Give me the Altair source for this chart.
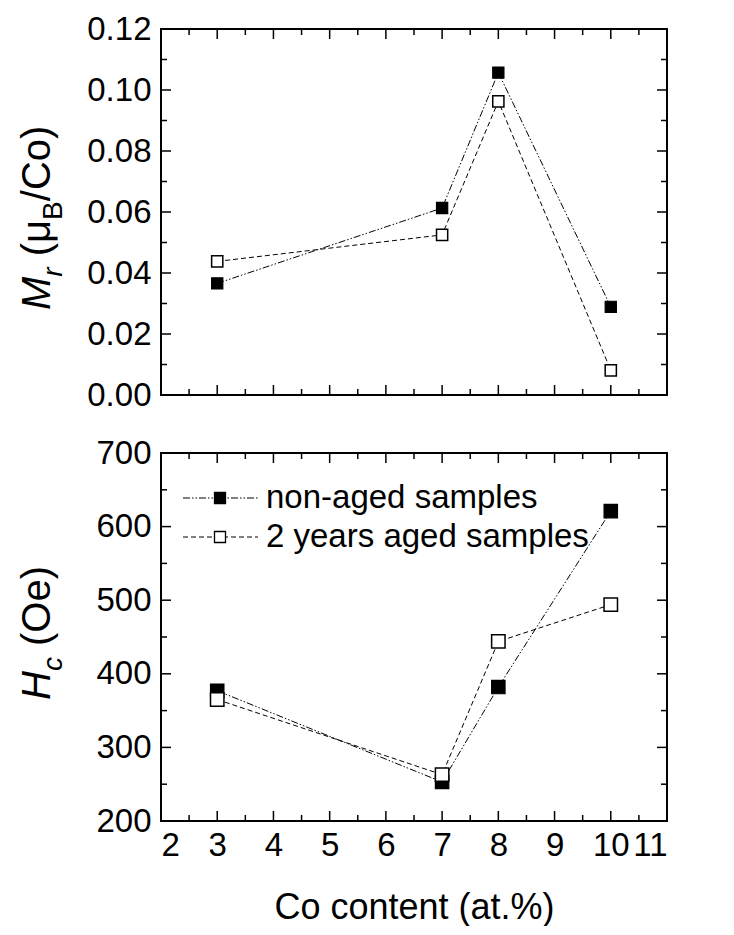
import altair as alt
import pandas as pd

FONT = "Liberation Sans"

# ---------------- data ----------------
co = [3, 7, 8, 10]
mr_nonaged = [0.0366, 0.0613, 0.1057, 0.0289]
mr_aged = [0.0438, 0.0525, 0.0963, 0.0081]
hc_nonaged = [377, 253, 382, 621]
hc_aged = [365, 263, 444, 494]
series_labels = ["non-aged samples", "2 years aged samples"]

x_ticks = [2, 3, 4, 5, 6, 7, 8, 9, 10, 11]
x_minor = [2.5, 3.5, 4.5, 5.5, 6.5, 7.5, 8.5, 9.5, 10.5]
mr_ticks = [0.0, 0.02, 0.04, 0.06, 0.08, 0.10, 0.12]
mr_minor = [0.01, 0.03, 0.05, 0.07, 0.09, 0.11]
hc_ticks = [200, 300, 400, 500, 600, 700]
hc_minor = [250, 350, 450, 550, 650]
x_title = "Co content (at.%)"

# --------------- layout ----------------
W = 506
H1 = 366
H2 = 368
MAJOR = 10
MINOR = 6
DASH_NA = [7, 2, 1.5, 2, 1.5, 2]
DASH_AG = [5, 3]
LABEL_FS = 33

# Arial-like advance widths (em) for title layout
EM = {"M": .833, "r": .333, " ": .278, "(": .333, ")": .333, "μ": .576, "B": .667,
      "/": .278, "C": .722, "o": .556, "H": .722, "c": .5, "O": .778, "e": .556}


def text_width(s, size):
    return sum(EM.get(ch, .556) for ch in s) * size


dummy = pd.DataFrame({"k": [0]})


def panel(y_na, y_ag, ydomain, yticks, yminor, yfmt, H, bottom, title_pieces,
          title_x, title_start, msize, legend):
    xs = alt.Scale(domain=[2, 11], nice=False, zero=False)
    ys = alt.Scale(domain=ydomain, nice=False, zero=False)
    if bottom:
        xaxis = alt.Axis(values=x_ticks, format="d", ticks=False, domain=False,
                         grid=False, labelFontSize=LABEL_FS, labelPadding=8,
                         title=x_title, titleFontSize=36, titlePadding=28,
                         titleFontWeight="normal")
    else:
        xaxis = None
    yaxis = alt.Axis(values=yticks, format=yfmt, ticks=False, domain=False,
                     grid=False, labelFontSize=LABEL_FS, labelPadding=10, title="")

    def X():
        return alt.X("x:Q", scale=xs, axis=xaxis)

    def Y():
        return alt.Y("y:Q", scale=ys, axis=yaxis)

    df_na = pd.DataFrame({"x": co, "y": y_na})
    df_ag = pd.DataFrame({"x": co, "y": y_ag})

    layers = []
    layers.append(alt.Chart(df_na).mark_line(color="black", strokeWidth=1,
                                             strokeDash=DASH_NA).encode(x=X(), y=Y()))
    layers.append(alt.Chart(df_ag).mark_line(color="black", strokeWidth=1,
                                             strokeDash=DASH_AG).encode(x=X(), y=Y()))
    layers.append(alt.Chart(df_na).mark_square(fill="black", stroke="black", strokeWidth=1.2,
                                               opacity=1, size=msize).encode(x=X(), y=Y()))
    layers.append(alt.Chart(df_ag).mark_square(fill="white", stroke="black", strokeWidth=1.5,
                                               opacity=1, size=msize).encode(x=X(), y=Y()))

    # inward ticks
    for vals, ln in ((yticks, MAJOR), (yminor, MINOR)):
        d = pd.DataFrame({"y": vals})
        layers.append(alt.Chart(d).mark_rule(color="black", strokeWidth=1.5).encode(
            y=Y(), x=alt.value(0), x2=alt.value(ln)))
        layers.append(alt.Chart(d).mark_rule(color="black", strokeWidth=1.5).encode(
            y=Y(), x=alt.value(W - ln), x2=alt.value(W)))
    for vals, ln in ((x_ticks, MAJOR), (x_minor, MINOR)):
        d = pd.DataFrame({"x": vals})
        layers.append(alt.Chart(d).mark_rule(color="black", strokeWidth=1.5).encode(
            x=X(), y=alt.value(H), y2=alt.value(H - ln)))
        layers.append(alt.Chart(d).mark_rule(color="black", strokeWidth=1.5).encode(
            x=X(), y=alt.value(0), y2=alt.value(ln)))

    # rotated y title built from pieces (italic symbol + subscripts)
    ypos = title_start
    for txt, size, italic, shift, gap in title_pieces:
        ypos -= gap * size
        kw = dict(text=txt, angle=270, align="left", baseline="alphabetic",
                  fontSize=size, font=FONT, color="black")
        if italic:
            kw["fontStyle"] = "italic"
        layers.append(alt.Chart(dummy).mark_text(**kw).encode(
            x=alt.value(title_x + shift), y=alt.value(ypos)))
        ypos -= text_width(txt, size)

    if legend:
        rows = [(series_labels[0], 45, DASH_NA, "black"),
                (series_labels[1], 84, DASH_AG, "white")]
        for lab, yy, dash, fill in rows:
            layers.append(alt.Chart(dummy).mark_rule(color="black", strokeWidth=1,
                                                     strokeDash=dash).encode(
                x=alt.value(22), x2=alt.value(97), y=alt.value(yy)))
            layers.append(alt.Chart(dummy).mark_square(fill=fill, stroke="black",
                                                       strokeWidth=1.3, opacity=1,
                                                       size=121).encode(
                x=alt.value(59), y=alt.value(yy)))
            layers.append(alt.Chart(dummy).mark_text(text=lab, align="left",
                                                     baseline="middle", fontSize=LABEL_FS,
                                                     font=FONT, color="black").encode(
                x=alt.value(105), y=alt.value(yy)))

    return alt.layer(*layers).properties(width=W, height=H)


# (text, font size, italic, baseline shift, leading space in em)
top_title = [("M", 40, True, 0, 0), ("r", 28, True, 12, 0), ("(μ", 40, False, 0, .278),
             ("B", 28, False, 12, 0), ("/Co)", 40, False, 0, 0)]
bot_title = [("H", 40, True, 0, 0), ("c", 28, True, 12, 0), ("(Oe)", 40, False, 0, .278)]

top = panel(mr_nonaged, mr_aged, [0, 0.12], mr_ticks, mr_minor, ".2f", H1, False,
            top_title, -111, 281, 125, False)
bottom = panel(hc_nonaged, hc_aged, [200, 700], hc_ticks, hc_minor, "d", H2, True,
               bot_title, -111, 247, 180, True)

chart = alt.vconcat(top, bottom, spacing=23).properties(
    padding={"left": 9, "top": 4, "right": 5, "bottom": 0}
).configure_view(stroke="black", strokeWidth=2).configure_axis(
    labelFont=FONT, titleFont=FONT, labelColor="black", titleColor="black"
)

chart.save("out.html", embed_options={"renderer": "svg", "actions": False})
